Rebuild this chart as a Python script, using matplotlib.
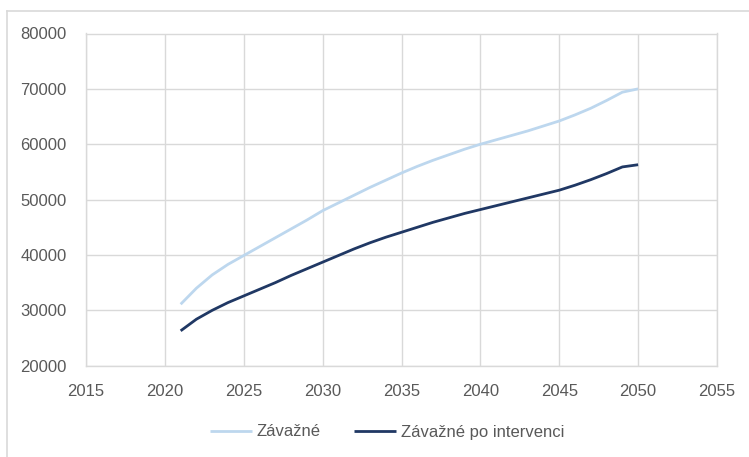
import matplotlib
matplotlib.use("Agg")
import matplotlib.pyplot as plt
from matplotlib.lines import Line2D

years = list(range(2021, 2051))
zavazne = [31100, 34000, 36400, 38300, 39900, 41500, 43100, 44700, 46300, 48000,
           49400, 50800, 52200, 53500, 54800, 56000, 57100, 58100, 59100, 60000,
           60800, 61600, 62400, 63300, 64200, 65300, 66500, 67900, 69400, 70000]
zavazne_po = [26300, 28400, 30000, 31400, 32600, 33800, 35000, 36300, 37500, 38700,
              39900, 41100, 42200, 43200, 44100, 45000, 45900, 46700, 47500, 48200,
              48900, 49600, 50300, 51000, 51700, 52600, 53600, 54700, 55900, 56300]
labels = ["Závažné", "Závažné po intervenci"]
xticks = [2015, 2020, 2025, 2030, 2035, 2040, 2045, 2050, 2055]
yticks = [20000, 30000, 40000, 50000, 60000, 70000, 80000]

plt.rcParams['font.family'] = ['Liberation Sans', 'DejaVu Sans']
fig = plt.figure(figsize=(7.49, 4.57), dpi=100)
ax = fig.add_axes([86/749, 1-365.7/457, (717-86)/749, (365.7-33.5)/457])

ax.plot(years, zavazne, color="#BDD7EE", lw=2.0, label=labels[0], solid_capstyle='butt')
ax.plot(years, zavazne_po, color="#203864", lw=2.0, label=labels[1], solid_capstyle='butt')

ax.set_xlim(2015, 2055)
ax.set_ylim(20000, 80000)
ax.set_xticks(xticks)
ax.set_yticks(yticks)
ax.grid(True, color="#D9D9D9", lw=1.0)
ax.set_axisbelow(True)
for s in ax.spines.values():
    s.set_color("#D9D9D9")
    s.set_linewidth(1.0)
ax.tick_params(length=0, labelsize=12, colors="#595959")
ax.tick_params(axis='x', pad=13)
ax.tick_params(axis='y', pad=14)

fig.legend(loc='center', bbox_to_anchor=(387/749, 1-432/457), ncol=2, frameon=False,
           fontsize=12, handlelength=2.5, columnspacing=2.0, labelcolor="#595959",
           handletextpad=0.3)

fig.add_artist(Line2D([7/749, 7/749], [0, 1-11/457], color="#D9D9D9", lw=1.2, transform=fig.transFigure))
fig.add_artist(Line2D([7/749, 1], [1-11/457, 1-11/457], color="#D9D9D9", lw=1.2, transform=fig.transFigure))

fig.savefig("out.png", dpi=100)
